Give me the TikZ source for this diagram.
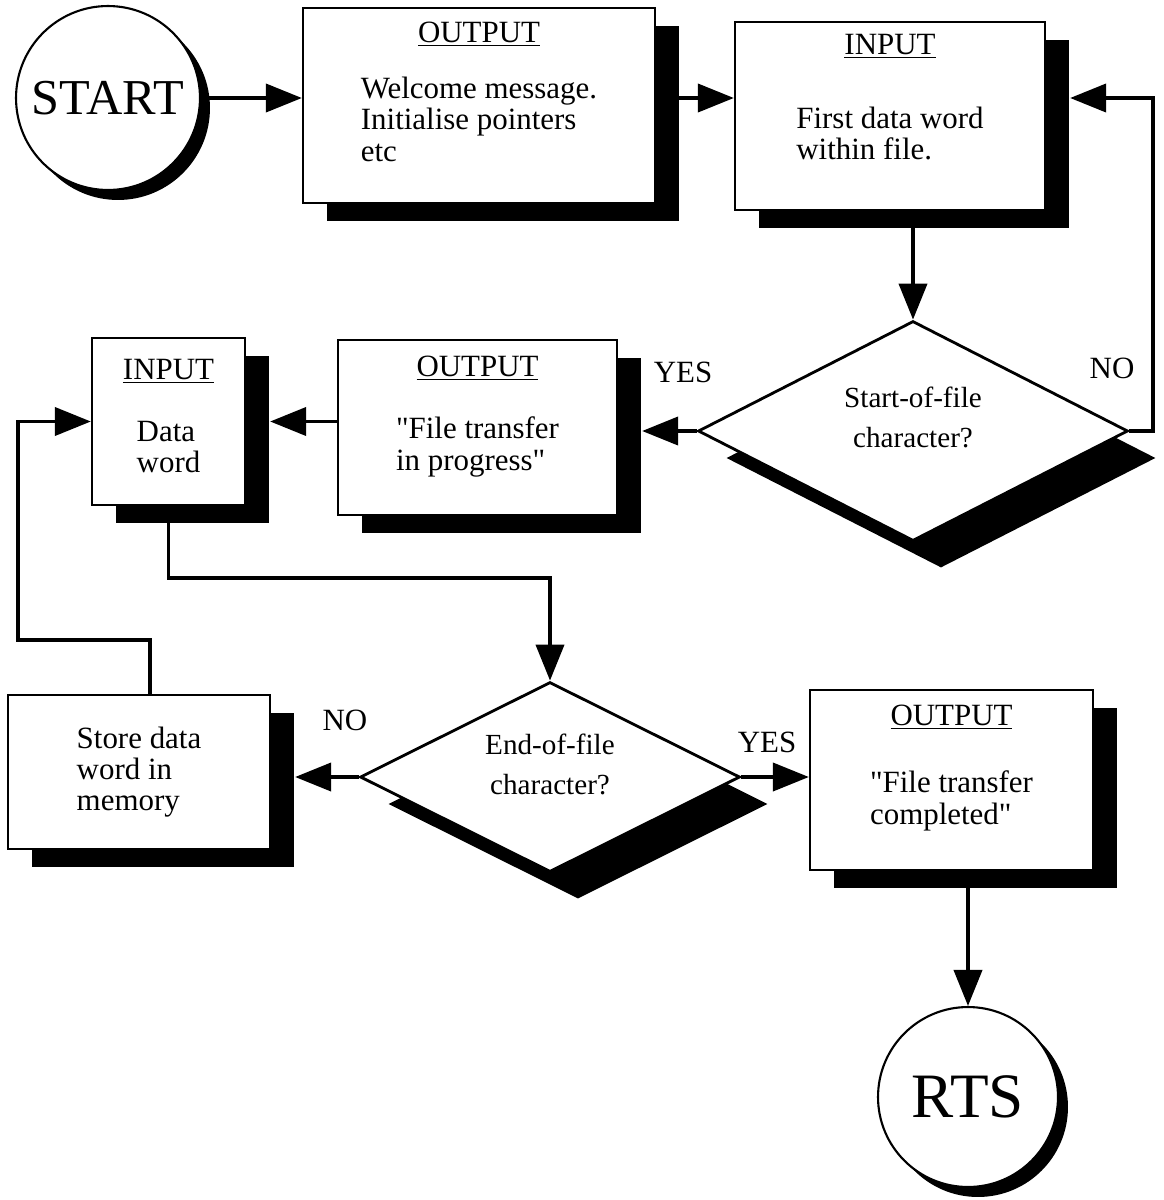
\documentclass[tikz,border=0pt]{standalone}
\usepackage{fontspec}
\setmainfont{Liberation Serif}[Ligatures=TeXOff]
\usetikzlibrary{positioning, shapes.geometric, arrows.meta, shadows}

\newcommand{\btext}{\fontsize{17.6}{17.8}\selectfont}
\newcommand{\dtext}{\fontsize{16.6}{22.7}\selectfont}

\tikzset{
    box/.style={draw, fill=white, line width=1.3pt, align=left, font=\btext,
        drop shadow={shadow xshift=0.48cm, shadow yshift=-0.36cm, fill=black, opacity=1}},
    decision/.style={diamond, draw, fill=white, line width=1.6pt, inner sep=0pt,
        drop shadow={shadow xshift=0.56cm, shadow yshift=-0.54cm, fill=black, opacity=1}},
    terminal/.style={circle, draw, fill=white, line width=1.2pt, inner sep=0pt,
        drop shadow={shadow xshift=0.2cm, shadow yshift=-0.2cm, fill=black, opacity=1}},
    head/.style={inner sep=0pt, font=\btext},
    body/.style={inner sep=0pt, align=left, font=\btext},
    dbody/.style={inner sep=0pt, align=center, font=\dtext},
    lbl/.style={inner sep=0pt, font=\btext},
    conn/.style={line width=2.2pt, -{Triangle[length=0.72cm, width=0.56cm]}}
}

\begin{document}
\begin{tikzpicture}[x=0.02cm, y=-0.02cm]
    \useasboundingbox (0,0) rectangle (1163,1200);

    % top row
    \node[terminal, minimum size=3.68cm, font=\fontsize{28.6}{30}\selectfont] (start) at (108,98) {START};
    \node[box, minimum width=7.04cm, minimum height=3.9cm] (out1) at (479,105.5) {};
    \node[head, below=0.30cm of out1.north] (out1h) {\underline{OUTPUT}};
    \node[body, below=0.60cm of out1h] (out1b) {Welcome message.\\Initialise pointers\\etc};

    \node[box, minimum width=6.2cm, minimum height=3.76cm] (in1) at (890,116) {};
    \node[head, below=0.26cm of in1.north] (in1h) {\underline{INPUT}};
    \node[body, below=0.96cm of in1h] (in1b) {First data word\\within file.};

    % middle row
    \node[decision, minimum width=8.6cm, minimum height=4.4cm] (d1) at (913,431) {};
    \node[dbody] (d1t) at ([yshift=0.27cm]d1.center) {Start-of-file\\character?};

    \node[box, minimum width=5.58cm, minimum height=3.5cm] (out2) at (477.5,427.5) {};
    \node[head, below=0.34cm of out2.north] (out2h) {\underline{OUTPUT}};
    \node[body, below=0.72cm of out2h] (out2b) {"File transfer\\in progress"};

    \node[box, minimum width=3.06cm, minimum height=3.34cm] (in2) at (168.5,421.5) {};
    \node[head, below=0.44cm of in2.north] (in2h) {\underline{INPUT}};
    \node[body, below=0.74cm of in2h] (in2b) {Data\\word};

    % bottom row
    \node[decision, minimum width=7.6cm, minimum height=3.8cm] (d2) at (550,777) {};
    \node[dbody] (d2t) at ([yshift=0.25cm]d2.center) {End-of-file\\character?};

    \node[box, minimum width=5.24cm, minimum height=3.08cm] (store) at (139,772) {Store data\\word in\\memory};

    \node[box, minimum width=5.66cm, minimum height=3.6cm] (out3) at (951.5,780) {};
    \node[head, below=0.32cm of out3.north] (out3h) {\underline{OUTPUT}};
    \node[body, below=0.82cm of out3h] (out3b) {"File transfer\\completed"};

    \node[terminal, minimum size=3.6cm, font=\fontsize{36}{38}\selectfont] (rts) at (968,1097) {RTS};

    % branch labels
    \node[lbl] (yes1) at (683,372) {YES};
    \node[lbl] (no1) at (1112,368) {NO};
    \node[lbl] (no2) at (345,720) {NO};
    \node[lbl] (yes2) at (767,742) {YES};

    % shadow edges and bends
    \coordinate (in1s) at ([xshift=0.48cm]in1.east);
    \coordinate (out2s) at ([xshift=0.48cm]out2.east);
    \coordinate (in2s) at ([xshift=0.48cm]in2.east);
    \coordinate (stores) at ([xshift=0.48cm]store.east);
    \coordinate (loopR) at (1153,0);
    \coordinate (fbA) at (150,640);
    \coordinate (fbB) at (18,640);
    \coordinate (bend) at (300,578);

    \draw[conn] (start.east) -- (start.east -| out1.west);
    \draw[conn] (out1.east |- start.east) -- (in1.west |- start.east);
    \draw[conn] (d1.north |- in1.south) -- (d1.north);
    \draw[conn] (d1.east) -- (d1.east -| loopR) |- (in1s |- start.east);
    \draw[conn] (d1.west) -- (d1.west -| out2s);
    \draw[conn] (out2.west |- in2s) -- (in2s);
    \draw[conn] (in2.south) |- (bend) -| (d2.north);
    \draw[conn] (fbA |- store.north) -- (fbA) -- (fbB) |- (in2.west);
    \draw[conn] (d2.west) -- (d2.west -| stores);
    \draw[conn] (d2.east) -- (d2.east -| out3.west);
    \draw[conn] (rts.north |- out3.south) -- (rts.north);
\end{tikzpicture}
\end{document}
